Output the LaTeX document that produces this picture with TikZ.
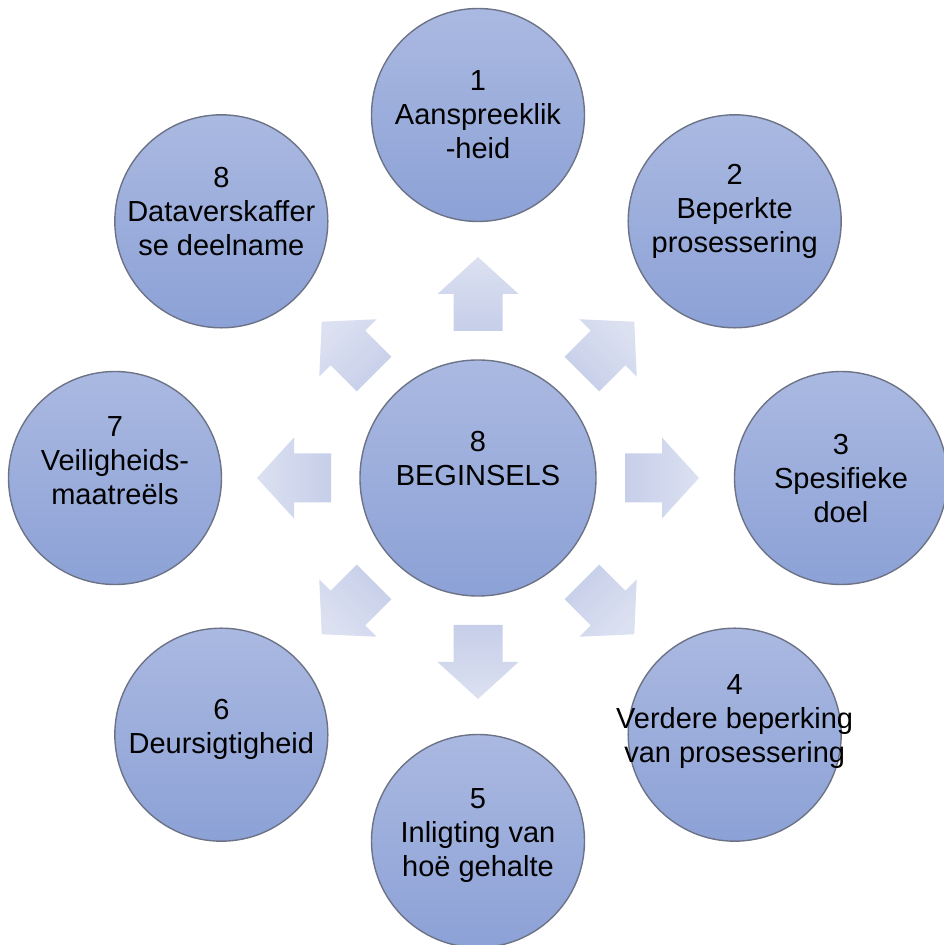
\documentclass[tikz,border=0pt]{standalone}
\usepackage{fontspec}
\setmainfont{Liberation Sans}
\definecolor{discTop}{HTML}{AAB9E1}
\definecolor{discBot}{HTML}{8CA1D6}
\definecolor{discLine}{HTML}{6D7386}
\definecolor{arrowTip}{HTML}{DCE1F1}
\definecolor{arrowTail}{HTML}{C6CEE9}

\begin{document}
\begin{tikzpicture}[x=0.5pt,y=0.5pt]
\tikzset{principle/.style = {shape=circle,draw=discLine,line width=0.7pt,top color=discTop,bottom color=discBot,minimum size=106.5pt,inner ysep=0pt,inner xsep=-25pt,align=center,font=\fontsize{14.5}{17}\selectfont}}
\tikzset{hub/.style = {principle,minimum size=118pt}}
\tikzset{blockarrow/.style = {top color=arrowTip,bottom color=arrowTail}}

\useasboundingbox (-478,-467) rectangle (465,478);

%arrows
\foreach \a in {0,45,...,315}
  \path[blockarrow,shading angle=\a,rotate=\a] (-24.5,147) -- (-24.5,184) -- (-40.5,184) -- (0,221) -- (40.5,184) -- (24.5,184) -- (24.5,147) -- cycle;

\node[hub,text depth=20pt] (hub) at (0,0) {8\\BEGINSELS};

%principles
\foreach \ang/\num/\txt/\lift in {90/1/{Aanspreeklik\\-heid}/0pt,
    45/2/{Beperkte\\prosessering}/13pt,
    0/3/{Spesifieke\\doel}/0pt,
    -45/4/{Verdere beperking\\van prosessering}/16pt,
    -90/5/{Inligting van\\hoë gehalte}/8pt,
    -135/6/{Deursigtigheid}/8pt,
    180/7/{Veiligheids-\\maatreëls}/17pt,
    135/8/{Dataverskaffer\\se deelname}/10pt}
  \node[principle,text depth=\lift] (p\num) at (\ang:363) {\num\\\txt};

\end{tikzpicture}
\end{document}
